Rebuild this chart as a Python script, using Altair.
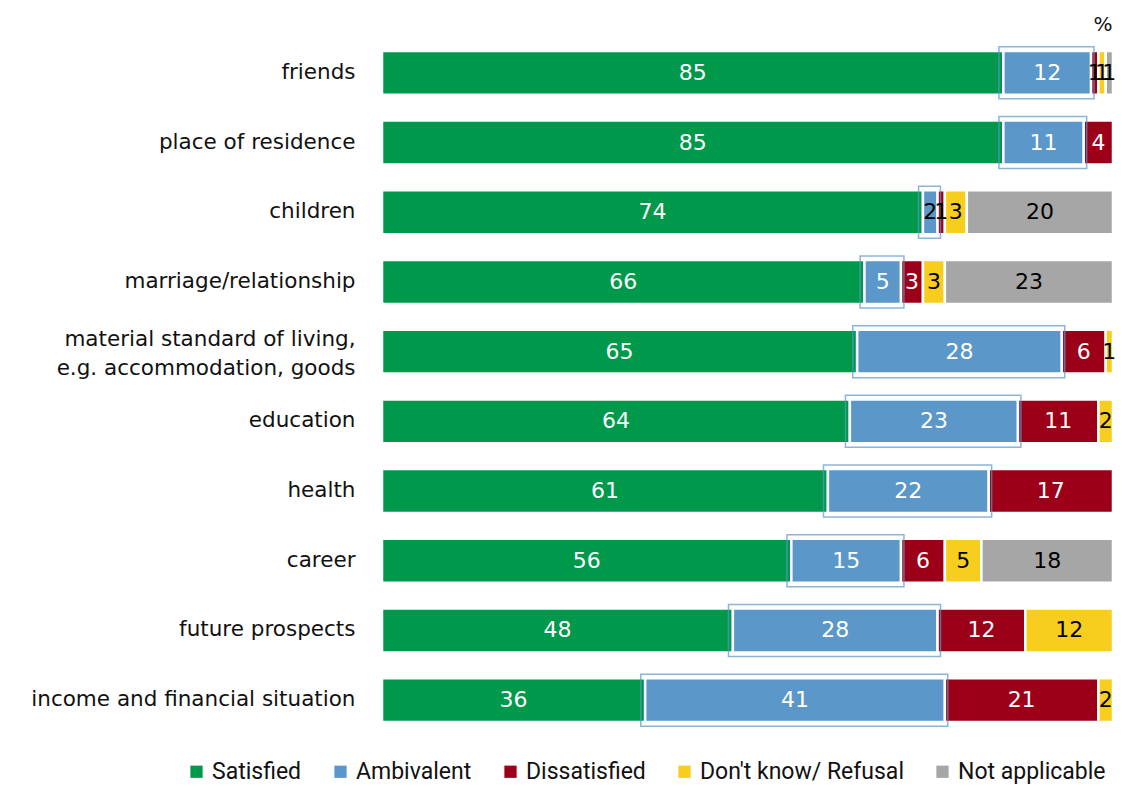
import altair as alt
import pandas as pd

categories = ["friends", "place of residence", "children", "marriage/relationship",
              "material standard of living,\ne.g. accommodation, goods", "education",
              "health", "career", "future prospects", "income and financial situation"]
series = ["Satisfied", "Ambivalent", "Dissatisfied", "Don't know/ Refusal", "Not applicable"]
colors = ["#00994c", "#5b97c9", "#9b0018", "#f7cd1e", "#a6a6a6"]

satisfied    = [85, 85, 74, 66, 65, 64, 61, 56, 48, 36]
ambivalent   = [12, 11, 2, 5, 28, 23, 22, 15, 28, 41]
dissatisfied = [1, 4, 1, 3, 6, 11, 17, 6, 12, 21]
dontknow     = [1, 0, 3, 3, 1, 2, 0, 5, 12, 2]
notapplic    = [1, 0, 20, 23, 0, 0, 0, 18, 0, 0]

values = [satisfied, ambivalent, dissatisfied, dontknow, notapplic]
rows = []
for si, (s, vals) in enumerate(zip(series, values)):
    for c, v in zip(categories, vals):
        if v > 0:
            dark_text = v <= 2 or si >= 3
            rows.append({"category": c, "series": s, "order": si, "value": v,
                         "tcolor": "black" if dark_text else "white"})
df = pd.DataFrame(rows)

W, H = 731, 697

base = alt.Chart(df).transform_stack(
    stack="value", groupby=["category"], as_=["x0", "x1"],
    sort=[alt.SortField("order", order="ascending")]
).transform_calculate(mid="(datum.x0 + datum.x1) / 2")

y_enc = alt.Y("category:N", sort=categories, title=None,
              scale=alt.Scale(paddingInner=0.37, paddingOuter=0.185),
              axis=alt.Axis(domain=False, ticks=False, labelPadding=27,
                            labelFontSize=21.5, labelFont="DejaVu Sans", labelColor="#111111",
                            labelLimit=400, labelLineHeight=29,
                            labelOffset={"condition": {"test": "indexof(datum.value, 'material') === 0",
                                                       "value": -12}, "value": 0},
                            labelExpr="split(datum.label, '\\n')"))

xs = alt.Scale(domain=[0, 100], nice=False)

bars = base.mark_bar(stroke="white", strokeWidth=2.5).encode(
    x=alt.X("x0:Q", scale=xs, axis=None),
    x2="x1:Q",
    y=y_enc,
    color=alt.Color("series:N", sort=series,
                    scale=alt.Scale(domain=series, range=colors),
                    legend=alt.Legend(title=None, orient="none", direction="horizontal",
                                      legendX=-197, legendY=722,
                                      labelFont="Roboto", labelFontSize=23,
                                      labelColor="#111111", labelLimit=400,
                                      symbolType="square", symbolSize=150,
                                      symbolStrokeWidth=0, columnPadding=27,
                                      labelOffset=4)),
)

outline = base.transform_filter(alt.datum.series == "Ambivalent").transform_calculate(
    ox0="datum.x0 - 0.6", ox1="datum.x1 + 0.4"
).mark_bar(filled=False, stroke="#5b97c9", strokeWidth=1.5, size=52, opacity=0.7).encode(
    x=alt.X("ox0:Q", scale=xs, axis=None),
    x2="ox1:Q",
    y=alt.Y("category:N", sort=categories),
)

labels = base.mark_text(font="DejaVu Sans", fontSize=22, baseline="middle", align="center").encode(
    x=alt.X("mid:Q", scale=xs),
    y=alt.Y("category:N", sort=categories),
    text=alt.Text("value:Q"),
    color=alt.Color("tcolor:N", scale=None),
)

pct = alt.Chart(pd.DataFrame({"t": ["%"]})).mark_text(
    font="DejaVu Sans", fontSize=20, align="center", baseline="middle", color="#111111"
).encode(x=alt.value(W - 10), y=alt.value(-13), text="t:N")

chart = alt.layer(bars, outline, labels, pct).properties(
    width=W, height=H,
    autosize=alt.AutoSizeParams(type="none"),
    padding={"left": 382, "top": 38, "right": 9, "bottom": 52},
).configure(background="white", view=alt.ViewConfig(strokeWidth=0, stroke="transparent"))

chart.save("out.html", embed_options={"renderer": "svg", "actions": False})
